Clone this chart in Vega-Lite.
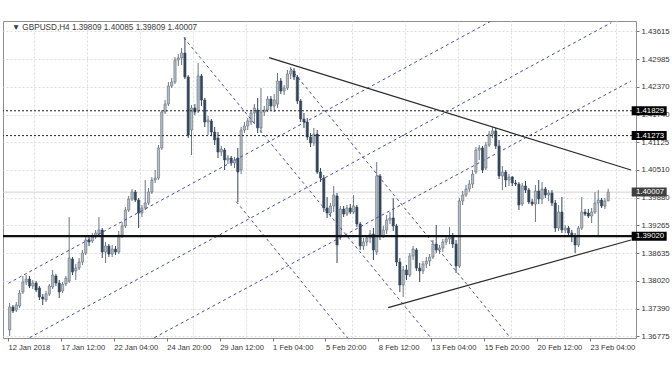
{
"$schema": "https://vega.github.io/schema/vega-lite/v6.json",
"width": 633, "height": 317,
"autosize": {"type": "none"},
"padding": {"left": 3, "top": 21, "right": 36, "bottom": 34},
"background": "white",
"config": {"view": {"stroke": "#8f8f8f", "strokeWidth": 1}, "font": "Liberation Sans"},
"datasets": {
"candles": [
{"t":0,"o":1.36918,"h":1.37523,"l":1.36784,"c":1.37433},
{"t":1,"o":1.37433,"h":1.37478,"l":1.37299,"c":1.37344},
{"t":2,"o":1.37366,"h":1.37545,"l":1.37321,"c":1.37478},
{"t":3,"o":1.37456,"h":1.37814,"l":1.37411,"c":1.37747},
{"t":4,"o":1.37769,"h":1.38128,"l":1.37724,"c":1.37993},
{"t":5,"o":1.37993,"h":1.38150,"l":1.37926,"c":1.38060},
{"t":6,"o":1.38060,"h":1.38128,"l":1.37859,"c":1.37904},
{"t":7,"o":1.37904,"h":1.38038,"l":1.37836,"c":1.37971},
{"t":8,"o":1.37971,"h":1.38016,"l":1.37769,"c":1.37814},
{"t":9,"o":1.37859,"h":1.37904,"l":1.37590,"c":1.37657},
{"t":10,"o":1.37657,"h":1.37724,"l":1.37478,"c":1.37612},
{"t":11,"o":1.37590,"h":1.37792,"l":1.37545,"c":1.37724},
{"t":12,"o":1.37724,"h":1.37948,"l":1.37680,"c":1.37904},
{"t":13,"o":1.37881,"h":1.38262,"l":1.37836,"c":1.38150},
{"t":14,"o":1.38128,"h":1.38172,"l":1.37904,"c":1.37971},
{"t":15,"o":1.37971,"h":1.38038,"l":1.37635,"c":1.37769},
{"t":16,"o":1.37792,"h":1.37993,"l":1.37747,"c":1.37948},
{"t":17,"o":1.37948,"h":1.38128,"l":1.37904,"c":1.38083},
{"t":18,"o":1.38016,"h":1.39449,"l":1.37971,"c":1.38531},
{"t":19,"o":1.38508,"h":1.38553,"l":1.38150,"c":1.38217},
{"t":20,"o":1.38240,"h":1.38396,"l":1.38038,"c":1.38307},
{"t":21,"o":1.38307,"h":1.38531,"l":1.38262,"c":1.38441},
{"t":22,"o":1.38441,"h":1.38710,"l":1.38374,"c":1.38643},
{"t":23,"o":1.38643,"h":1.39046,"l":1.38598,"c":1.38934},
{"t":24,"o":1.38934,"h":1.39001,"l":1.38800,"c":1.38889},
{"t":25,"o":1.38912,"h":1.39091,"l":1.38867,"c":1.39024},
{"t":26,"o":1.39024,"h":1.39158,"l":1.38956,"c":1.39091},
{"t":27,"o":1.39068,"h":1.39449,"l":1.39024,"c":1.39158},
{"t":28,"o":1.39158,"h":1.39203,"l":1.38531,"c":1.38665},
{"t":29,"o":1.38665,"h":1.38889,"l":1.38419,"c":1.38800},
{"t":30,"o":1.38800,"h":1.38844,"l":1.38553,"c":1.38620},
{"t":31,"o":1.38620,"h":1.38822,"l":1.38553,"c":1.38732},
{"t":32,"o":1.38732,"h":1.38800,"l":1.38598,"c":1.38665},
{"t":33,"o":1.38665,"h":1.39136,"l":1.38620,"c":1.39046},
{"t":34,"o":1.39046,"h":1.39337,"l":1.38979,"c":1.39248},
{"t":35,"o":1.39248,"h":1.39673,"l":1.39203,"c":1.39606},
{"t":36,"o":1.39606,"h":1.39920,"l":1.39561,"c":1.39852},
{"t":37,"o":1.39852,"h":1.40076,"l":1.39808,"c":1.40009},
{"t":38,"o":1.40009,"h":1.40054,"l":1.39785,"c":1.39830},
{"t":39,"o":1.39830,"h":1.39875,"l":1.39203,"c":1.39539},
{"t":40,"o":1.39539,"h":1.39718,"l":1.39449,"c":1.39651},
{"t":41,"o":1.39651,"h":1.40278,"l":1.39606,"c":1.39763},
{"t":42,"o":1.39763,"h":1.40099,"l":1.39718,"c":1.40009},
{"t":43,"o":1.40009,"h":1.40345,"l":1.39964,"c":1.40278},
{"t":44,"o":1.40278,"h":1.40502,"l":1.40211,"c":1.40323},
{"t":45,"o":1.40323,"h":1.41062,"l":1.40278,"c":1.40995},
{"t":46,"o":1.40995,"h":1.41846,"l":1.40950,"c":1.41801},
{"t":47,"o":1.41801,"h":1.42070,"l":1.41756,"c":1.41980},
{"t":48,"o":1.41980,"h":1.42473,"l":1.41936,"c":1.42384},
{"t":49,"o":1.42384,"h":1.42563,"l":1.42339,"c":1.42473},
{"t":50,"o":1.42473,"h":1.43033,"l":1.42428,"c":1.42966},
{"t":51,"o":1.42966,"h":1.43100,"l":1.42832,"c":1.43011},
{"t":52,"o":1.43011,"h":1.43235,"l":1.42854,"c":1.43123},
{"t":53,"o":1.43123,"h":1.43481,"l":1.42540,"c":1.42585},
{"t":54,"o":1.42585,"h":1.42630,"l":1.41219,"c":1.41286},
{"t":55,"o":1.41398,"h":1.41958,"l":1.40838,"c":1.41891},
{"t":56,"o":1.41891,"h":1.41980,"l":1.41734,"c":1.41801},
{"t":57,"o":1.41824,"h":1.42899,"l":1.41779,"c":1.42608},
{"t":58,"o":1.42608,"h":1.42652,"l":1.41936,"c":1.42070},
{"t":59,"o":1.42070,"h":1.42115,"l":1.41465,"c":1.41577},
{"t":60,"o":1.41577,"h":1.41712,"l":1.41286,"c":1.41622},
{"t":61,"o":1.41600,"h":1.41644,"l":1.41264,"c":1.41353},
{"t":62,"o":1.41353,"h":1.41465,"l":1.41062,"c":1.41174},
{"t":63,"o":1.41219,"h":1.41353,"l":1.40771,"c":1.40905},
{"t":64,"o":1.40905,"h":1.41040,"l":1.40816,"c":1.40972},
{"t":65,"o":1.40950,"h":1.40995,"l":1.40502,"c":1.40726},
{"t":66,"o":1.40726,"h":1.40838,"l":1.40636,"c":1.40771},
{"t":67,"o":1.40771,"h":1.40816,"l":1.40592,"c":1.40659},
{"t":68,"o":1.40659,"h":1.40793,"l":1.40547,"c":1.40726},
{"t":69,"o":1.40771,"h":1.40995,"l":1.39785,"c":1.40457},
{"t":70,"o":1.40502,"h":1.41465,"l":1.40412,"c":1.41398},
{"t":71,"o":1.41398,"h":1.41577,"l":1.41331,"c":1.41488},
{"t":72,"o":1.41488,"h":1.41667,"l":1.41398,"c":1.41600},
{"t":73,"o":1.41577,"h":1.41846,"l":1.41510,"c":1.41779},
{"t":74,"o":1.41779,"h":1.41980,"l":1.41532,"c":1.41891},
{"t":75,"o":1.41846,"h":1.42115,"l":1.41331,"c":1.41443},
{"t":76,"o":1.41443,"h":1.42339,"l":1.41331,"c":1.41801},
{"t":77,"o":1.41801,"h":1.41936,"l":1.41712,"c":1.41846},
{"t":78,"o":1.41846,"h":1.42160,"l":1.41801,"c":1.42092},
{"t":79,"o":1.42092,"h":1.42160,"l":1.41846,"c":1.41936},
{"t":80,"o":1.41936,"h":1.42204,"l":1.41801,"c":1.42070},
{"t":81,"o":1.41980,"h":1.42675,"l":1.41891,"c":1.42496},
{"t":82,"o":1.42496,"h":1.42563,"l":1.42204,"c":1.42272},
{"t":83,"o":1.42272,"h":1.42406,"l":1.42182,"c":1.42339},
{"t":84,"o":1.42339,"h":1.42742,"l":1.42294,"c":1.42652},
{"t":85,"o":1.42652,"h":1.42809,"l":1.42540,"c":1.42720},
{"t":86,"o":1.42720,"h":1.42787,"l":1.42518,"c":1.42585},
{"t":87,"o":1.42585,"h":1.42630,"l":1.41980,"c":1.42048},
{"t":88,"o":1.42048,"h":1.42092,"l":1.41577,"c":1.41644},
{"t":89,"o":1.41644,"h":1.41779,"l":1.41443,"c":1.41577},
{"t":90,"o":1.41577,"h":1.41667,"l":1.41174,"c":1.41241},
{"t":91,"o":1.41241,"h":1.41331,"l":1.41017,"c":1.41107},
{"t":92,"o":1.41107,"h":1.41443,"l":1.41040,"c":1.41308},
{"t":93,"o":1.41308,"h":1.41398,"l":1.40412,"c":1.40457},
{"t":94,"o":1.40457,"h":1.40547,"l":1.40233,"c":1.40323},
{"t":95,"o":1.40323,"h":1.40390,"l":1.39561,"c":1.39651},
{"t":96,"o":1.39651,"h":1.39897,"l":1.39427,"c":1.39539},
{"t":97,"o":1.39539,"h":1.39763,"l":1.39449,"c":1.39696},
{"t":98,"o":1.39696,"h":1.40144,"l":1.39561,"c":1.39942},
{"t":99,"o":1.39920,"h":1.39987,"l":1.38419,"c":1.38822},
{"t":100,"o":1.39046,"h":1.39696,"l":1.38934,"c":1.39628},
{"t":101,"o":1.39628,"h":1.39696,"l":1.39449,"c":1.39516},
{"t":102,"o":1.39516,"h":1.39718,"l":1.39472,"c":1.39651},
{"t":103,"o":1.39651,"h":1.39740,"l":1.39516,"c":1.39561},
{"t":104,"o":1.39561,"h":1.39942,"l":1.39516,"c":1.39696},
{"t":105,"o":1.39673,"h":1.39718,"l":1.39225,"c":1.39292},
{"t":106,"o":1.39292,"h":1.39337,"l":1.38710,"c":1.38800},
{"t":107,"o":1.38800,"h":1.38979,"l":1.38710,"c":1.38889},
{"t":108,"o":1.38889,"h":1.39046,"l":1.38800,"c":1.38979},
{"t":109,"o":1.38979,"h":1.39158,"l":1.38867,"c":1.39068},
{"t":110,"o":1.39068,"h":1.39203,"l":1.38486,"c":1.38710},
{"t":111,"o":1.38665,"h":1.40681,"l":1.38598,"c":1.40368},
{"t":112,"o":1.40368,"h":1.40412,"l":1.38934,"c":1.39024},
{"t":113,"o":1.39024,"h":1.39248,"l":1.38979,"c":1.39158},
{"t":114,"o":1.39158,"h":1.39494,"l":1.39068,"c":1.39382},
{"t":115,"o":1.39382,"h":1.39561,"l":1.39292,"c":1.39427},
{"t":116,"o":1.39427,"h":1.39875,"l":1.39136,"c":1.39248},
{"t":117,"o":1.39248,"h":1.39292,"l":1.38352,"c":1.38441},
{"t":118,"o":1.38441,"h":1.38531,"l":1.37769,"c":1.37926},
{"t":119,"o":1.37926,"h":1.38352,"l":1.37657,"c":1.38262},
{"t":120,"o":1.38262,"h":1.38374,"l":1.38038,"c":1.38150},
{"t":121,"o":1.38150,"h":1.38643,"l":1.38105,"c":1.38576},
{"t":122,"o":1.38576,"h":1.38800,"l":1.38486,"c":1.38732},
{"t":123,"o":1.38710,"h":1.38755,"l":1.38240,"c":1.38307},
{"t":124,"o":1.38307,"h":1.38419,"l":1.37993,"c":1.38240},
{"t":125,"o":1.38240,"h":1.38464,"l":1.38172,"c":1.38396},
{"t":126,"o":1.38396,"h":1.38553,"l":1.38307,"c":1.38464},
{"t":127,"o":1.38464,"h":1.38620,"l":1.38352,"c":1.38553},
{"t":128,"o":1.38553,"h":1.38934,"l":1.38508,"c":1.38844},
{"t":129,"o":1.38844,"h":1.39270,"l":1.38643,"c":1.38710},
{"t":130,"o":1.38710,"h":1.38822,"l":1.38620,"c":1.38755},
{"t":131,"o":1.38755,"h":1.38956,"l":1.38665,"c":1.38889},
{"t":132,"o":1.38889,"h":1.39024,"l":1.38822,"c":1.38956},
{"t":133,"o":1.38956,"h":1.39225,"l":1.38844,"c":1.39024},
{"t":134,"o":1.39024,"h":1.39091,"l":1.38755,"c":1.38844},
{"t":135,"o":1.38844,"h":1.38934,"l":1.38195,"c":1.38352},
{"t":136,"o":1.38352,"h":1.39875,"l":1.38307,"c":1.39808},
{"t":137,"o":1.39808,"h":1.40032,"l":1.39718,"c":1.39942},
{"t":138,"o":1.39942,"h":1.40166,"l":1.39897,"c":1.40076},
{"t":139,"o":1.40076,"h":1.40278,"l":1.40009,"c":1.40188},
{"t":140,"o":1.40188,"h":1.40502,"l":1.40099,"c":1.40412},
{"t":141,"o":1.40457,"h":1.41017,"l":1.40412,"c":1.40950},
{"t":142,"o":1.40950,"h":1.41062,"l":1.40726,"c":1.40995},
{"t":143,"o":1.40995,"h":1.41040,"l":1.40435,"c":1.40502},
{"t":144,"o":1.40547,"h":1.41129,"l":1.40502,"c":1.41062},
{"t":145,"o":1.41062,"h":1.41376,"l":1.41017,"c":1.41308},
{"t":146,"o":1.41308,"h":1.41465,"l":1.41219,"c":1.41376},
{"t":147,"o":1.41376,"h":1.41443,"l":1.40972,"c":1.41040},
{"t":148,"o":1.41040,"h":1.41174,"l":1.40300,"c":1.40368},
{"t":149,"o":1.40368,"h":1.40592,"l":1.40054,"c":1.40457},
{"t":150,"o":1.40457,"h":1.40502,"l":1.40121,"c":1.40278},
{"t":151,"o":1.40278,"h":1.40412,"l":1.40144,"c":1.40345},
{"t":152,"o":1.40345,"h":1.40368,"l":1.40144,"c":1.40211},
{"t":153,"o":1.40211,"h":1.40278,"l":1.40144,"c":1.40188},
{"t":154,"o":1.40188,"h":1.40233,"l":1.39606,"c":1.39718},
{"t":155,"o":1.39740,"h":1.40211,"l":1.39696,"c":1.40144},
{"t":156,"o":1.40144,"h":1.40256,"l":1.39987,"c":1.40054},
{"t":157,"o":1.40054,"h":1.40099,"l":1.39740,"c":1.39785},
{"t":158,"o":1.39785,"h":1.39852,"l":1.39696,"c":1.39740},
{"t":159,"o":1.39740,"h":1.40166,"l":1.39337,"c":1.40032},
{"t":160,"o":1.40032,"h":1.40278,"l":1.39740,"c":1.39852},
{"t":161,"o":1.39852,"h":1.40233,"l":1.39740,"c":1.40076},
{"t":162,"o":1.40076,"h":1.40121,"l":1.39875,"c":1.39942},
{"t":163,"o":1.39942,"h":1.40054,"l":1.39808,"c":1.39987},
{"t":164,"o":1.39987,"h":1.40054,"l":1.39696,"c":1.39763},
{"t":165,"o":1.39763,"h":1.39830,"l":1.39113,"c":1.39203},
{"t":166,"o":1.39203,"h":1.39718,"l":1.39136,"c":1.39561},
{"t":167,"o":1.39561,"h":1.39897,"l":1.39091,"c":1.39158},
{"t":168,"o":1.39158,"h":1.39270,"l":1.39091,"c":1.39203},
{"t":169,"o":1.39203,"h":1.39248,"l":1.39024,"c":1.39091},
{"t":170,"o":1.39091,"h":1.39158,"l":1.38889,"c":1.39024},
{"t":171,"o":1.39024,"h":1.39091,"l":1.38643,"c":1.38822},
{"t":172,"o":1.38822,"h":1.39248,"l":1.38777,"c":1.39203},
{"t":173,"o":1.39203,"h":1.39897,"l":1.39158,"c":1.39561},
{"t":174,"o":1.39561,"h":1.39628,"l":1.39472,"c":1.39516},
{"t":175,"o":1.39539,"h":1.39628,"l":1.39427,"c":1.39472},
{"t":176,"o":1.39472,"h":1.39651,"l":1.39315,"c":1.39561},
{"t":177,"o":1.39561,"h":1.40009,"l":1.39516,"c":1.39763},
{"t":178,"o":1.39763,"h":1.40054,"l":1.39046,"c":1.39830},
{"t":179,"o":1.39830,"h":1.39875,"l":1.39651,"c":1.39696},
{"t":180,"o":1.39696,"h":1.39875,"l":1.39628,"c":1.39808},
{"t":181,"o":1.39809,"h":1.40085,"l":1.39809,"c":1.40007}
],
"channel": [
{"id":"L1","t":-0.41,"p":1.37964},{"id":"L1","t":145.25,"p":1.43824},
{"id":"L2","t":6.05,"p":1.36746},{"id":"L2","t":181.94,"p":1.43802},
{"id":"L3","t":43.76,"p":1.36746},{"id":"L3","t":187.9,"p":1.42496},
{"id":"D1","t":52.68,"p":1.43466},{"id":"D1","t":127.39,"p":1.36739},
{"id":"D2","t":84.92,"p":1.42780},{"id":"D2","t":151.52,"p":1.36739},
{"id":"D3","t":68.55,"p":1.39792},{"id":"D3","t":102.18,"p":1.36739}
],
"trend": [
{"id":"T1","t":78.46,"p":1.43018},{"id":"T1","t":187.9,"p":1.40502},
{"id":"T2","t":114.47,"p":1.37418},{"id":"T2","t":187.9,"p":1.38934}
],
"levels": [
{"price":1.41829,"kind":"level"},
{"price":1.41273,"kind":"level"},
{"price":1.40007,"kind":"bid"},
{"price":1.39020,"kind":"support"}
],
"header": [{"label":"▼ GBPUSD,H4  1.39809 1.40085 1.39809 1.40007"}]
},
"layer": [
{
"data": {"name": "levels"},
"transform": [{"filter": "datum.kind == 'bid'"}],
"mark": {"type": "rule", "color": "#d2d2d2", "strokeWidth": 1},
"encoding": {
"y": {"field": "price", "type": "quantitative", "scale": {"domain": [1.36739, 1.4384], "nice": false, "zero": false},
"axis": {"orient": "right", "title": null, "values": [1.43615,1.42985,1.4237,1.4174,1.41125,1.4051,1.3988,1.39265,1.38635,1.3802,1.3739,1.36775],
"format": ".5f", "labelFontSize": 7.8, "labelColor": "#333333", "labelPadding": 2, "tickSize": 3, "tickColor": "#777777",
"domain": false, "grid": true, "gridColor": "#dcdcdc", "gridDash": [2, 2], "labelOverlap": false, "labelFlush": false}}
}
},
{
"data": {"name": "candles"},
"mark": {"type": "rule", "strokeWidth": 1},
"encoding": {
"x": {"field": "t", "type": "quantitative", "scale": {"domain": [-0.5, 187.9], "nice": false, "zero": false},
"axis": {"orient": "bottom", "title": null, "values": [-0.5,15.5,31.5,47.5,63.5,79.5,95.5,111.5,127.5,143.5,159.5,175.5],
"labelExpr": "['12 Jan 2018','17 Jan 12:00','22 Jan 04:00','24 Jan 20:00','29 Jan 12:00','1 Feb 04:00','5 Feb 20:00','8 Feb 12:00','13 Feb 04:00','15 Feb 20:00','20 Feb 12:00','23 Feb 04:00'][round((datum.value+0.5)/16)]",
"labelAlign": "left", "labelBaseline": "top", "labelFontSize": 7.6, "labelColor": "#333333", "labelPadding": 2, "labelDx": 1,
"labelFlush": false, "labelOverlap": false, "tickSize": 3, "tickColor": "#777777", "domain": false, "grid": false}},
"y": {"field": "l", "type": "quantitative", "scale": {"domain": [1.36739, 1.4384], "nice": false, "zero": false}, "axis": null},
"y2": {"field": "h"},
"color": {"condition": {"test": "datum.c >= datum.o", "value": "#6c7783"}, "value": "#34465a"}
}
},
{
"data": {"name": "candles"},
"mark": {"type": "bar", "size": 2.2, "strokeWidth": 0.6},
"encoding": {
"x": {"field": "t", "type": "quantitative", "scale": {"domain": [-0.5, 187.9], "nice": false, "zero": false},
"axis": {"orient": "top", "title": null, "values": [7.5,23.5,39.5,55.5,71.5,87.5,103.5,119.5,135.5,151.5,167.5,183.5],
"labels": false, "ticks": false, "domain": false, "grid": true, "gridColor": "#dcdcdc", "gridDash": [2, 2]}},
"y": {"field": "o", "type": "quantitative", "scale": {"domain": [1.36739, 1.4384], "nice": false, "zero": false}, "axis": null},
"y2": {"field": "c"},
"fill": {"condition": {"test": "datum.c >= datum.o", "value": "#b6bec6"}, "value": "#34465a"},
"stroke": {"condition": {"test": "datum.c >= datum.o", "value": "#5f6b77"}, "value": "#34465a"}
}
},
{
"data": {"name": "channel"},
"mark": {"type": "line", "color": "#4b4ba8", "strokeWidth": 1, "strokeDash": [3, 3], "clip": true},
"encoding": {
"x": {"field": "t", "type": "quantitative", "scale": {"domain": [-0.5, 187.9], "nice": false, "zero": false}, "axis": null},
"y": {"field": "p", "type": "quantitative", "scale": {"domain": [1.36739, 1.4384], "nice": false, "zero": false}, "axis": null},
"detail": {"field": "id"}
}
},
{
"data": {"name": "trend"},
"mark": {"type": "line", "color": "#2b2b2b", "strokeWidth": 1.2, "clip": true},
"encoding": {
"x": {"field": "t", "type": "quantitative", "scale": {"domain": [-0.5, 187.9], "nice": false, "zero": false}, "axis": null},
"y": {"field": "p", "type": "quantitative", "scale": {"domain": [1.36739, 1.4384], "nice": false, "zero": false}, "axis": null},
"detail": {"field": "id"}
}
},
{
"data": {"name": "levels"},
"transform": [{"filter": "datum.kind == 'level'"}],
"mark": {"type": "rule", "color": "#1e1e1e", "strokeWidth": 1, "strokeDash": [2, 2]},
"encoding": {
"y": {"field": "price", "type": "quantitative", "scale": {"domain": [1.36739, 1.4384], "nice": false, "zero": false}, "axis": null}
}
},
{
"data": {"name": "levels"},
"transform": [{"filter": "datum.kind == 'support'"}],
"mark": {"type": "rule", "color": "#111111", "strokeWidth": 2.4},
"encoding": {
"y": {"field": "price", "type": "quantitative", "scale": {"domain": [1.36739, 1.4384], "nice": false, "zero": false}, "axis": null}
}
},
{
"data": {"name": "levels"},
"mark": {"type": "tick", "orient": "horizontal", "size": 35, "thickness": 9, "opacity": 1},
"encoding": {
"x": {"datum": 193.4, "type": "quantitative", "scale": {"domain": [-0.5, 187.9], "nice": false, "zero": false}, "axis": null},
"y": {"field": "price", "type": "quantitative", "scale": {"domain": [1.36739, 1.4384], "nice": false, "zero": false}, "axis": null},
"color": {"condition": {"test": "datum.kind == 'bid'", "value": "#3f3f3f"}, "value": "#000000"}
}
},
{
"data": {"name": "levels"},
"mark": {"type": "text", "align": "left", "baseline": "middle", "fontSize": 7.8, "color": "white"},
"encoding": {
"x": {"datum": 189.4, "type": "quantitative", "scale": {"domain": [-0.5, 187.9], "nice": false, "zero": false}, "axis": null},
"y": {"field": "price", "type": "quantitative", "scale": {"domain": [1.36739, 1.4384], "nice": false, "zero": false}, "axis": null},
"text": {"field": "price", "type": "quantitative", "format": ".5f"}
}
},
{
"data": {"name": "header"},
"mark": {"type": "text", "align": "left", "baseline": "middle", "fontSize": 8.2, "color": "#3a3a3a"},
"encoding": {
"x": {"datum": 0.7, "type": "quantitative", "scale": {"domain": [-0.5, 187.9], "nice": false, "zero": false}, "axis": null},
"y": {"datum": 1.43683, "type": "quantitative", "scale": {"domain": [1.36739, 1.4384], "nice": false, "zero": false}, "axis": null},
"text": {"field": "label"}
}
}
],
"resolve": {"axis": {"x": "independent", "y": "independent"}}
}
